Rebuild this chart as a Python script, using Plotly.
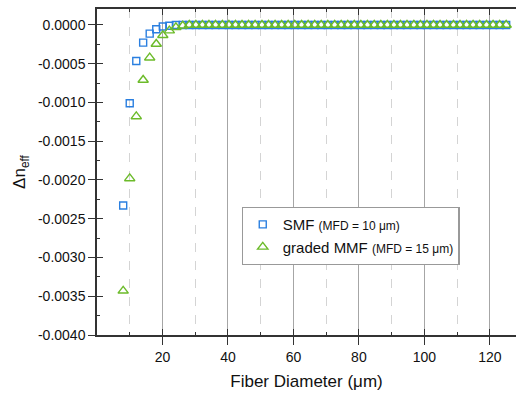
import plotly.graph_objects as go

fiber_diameter = [8.0, 10.0, 12.0, 14.1, 16.1, 18.1, 20.1, 22.1, 24.1, 26.2,
                  28.2, 30.2, 32.2, 34.2, 36.2, 38.3, 40.3, 42.3, 44.3, 46.3,
                  48.3, 50.4, 52.4, 54.4, 56.4, 58.4, 60.4, 62.5, 64.5, 66.5,
                  68.5, 70.5, 72.6, 74.6, 76.6, 78.6, 80.6, 82.6, 84.7, 86.7,
                  88.7, 90.7, 92.7, 94.7, 96.8, 98.8, 100.8, 102.8, 104.8, 106.8,
                  108.9, 110.9, 112.9, 114.9, 116.9, 119.0, 121.0, 123.0, 125.0]

smf_dn = [-0.00233, -0.00101, -0.000465, -0.000228, -0.000112, -0.000056, -0.00002, -0.00001, 0.0, 0.0,
          0.0, 0.0, 0.0, 0.0, 0.0, 0.0, 0.0, 0.0, 0.0, 0.0,
          0.0, 0.0, 0.0, 0.0, 0.0, 0.0, 0.0, 0.0, 0.0, 0.0,
          0.0, 0.0, 0.0, 0.0, 0.0, 0.0, 0.0, 0.0, 0.0, 0.0,
          0.0, 0.0, 0.0, 0.0, 0.0, 0.0, 0.0, 0.0, 0.0, 0.0,
          0.0, 0.0, 0.0, 0.0, 0.0, 0.0, 0.0, 0.0, 0.0]

mmf_dn = [-0.00343, -0.00198, -0.00118, -0.00071, -0.000422, -0.000245, -0.000133, -0.000073, -0.00003, -0.00001,
          0.0, 0.0, 0.0, 0.0, 0.0, 0.0, 0.0, 0.0, 0.0, 0.0,
          0.0, 0.0, 0.0, 0.0, 0.0, 0.0, 0.0, 0.0, 0.0, 0.0,
          0.0, 0.0, 0.0, 0.0, 0.0, 0.0, 0.0, 0.0, 0.0, 0.0,
          0.0, 0.0, 0.0, 0.0, 0.0, 0.0, 0.0, 0.0, 0.0, 0.0,
          0.0, 0.0, 0.0, 0.0, 0.0, 0.0, 0.0, 0.0, 0.0]

y_tickvals = [0.0, -0.0005, -0.0010, -0.0015, -0.0020, -0.0025, -0.0030, -0.0035, -0.0040]
y_ticktext = ["0.0000", "-0.0005", "-0.0010", "-0.0015", "-0.0020", "-0.0025", "-0.0030", "-0.0035", "-0.0040"]
x_tickvals = [20, 40, 60, 80, 100, 120]
x_ticktext = ["20", "40", "60", "80", "100", "120"]

BLUE = "#2a7fe0"
GREEN = "#6cbb2a"
AX = "#333333"
FONT = "Liberation Sans, Arial, sans-serif"

fig = go.Figure()
fig.add_trace(go.Scatter(
    x=fiber_diameter, y=smf_dn, mode="markers",
    name="SMF <span style='font-size:12px'>(MFD = 10 μm)</span>",
    marker=dict(symbol="square-open", size=7, color=BLUE, line=dict(width=1.4, color=BLUE)),
))
fig.add_trace(go.Scatter(
    x=fiber_diameter, y=mmf_dn, mode="markers",
    name="graded MMF <span style='font-size:12px'>(MFD = 15 μm)</span>",
    marker=dict(symbol="triangle-up-open", size=9, color=GREEN, line=dict(width=1.4, color=GREEN)),
))
# invisible trace to activate overlay axes
fig.add_trace(go.Scatter(x=[fiber_diameter[0]], y=[smf_dn[0]], xaxis="x2", yaxis="y2",
                         mode="markers", marker=dict(opacity=0), showlegend=False, hoverinfo="skip"))

xr = [0, 128]
yr = [-0.004, 0.000206]

fig.update_layout(
    width=516, height=396,
    margin=dict(l=97, r=0, t=9, b=61),
    paper_bgcolor="white", plot_bgcolor="white",
    font=dict(family=FONT, size=14, color="#111111"),
    showlegend=True,
    legend=dict(x=0.345, y=0.393, xanchor="left", yanchor="top",
                bgcolor="white", bordercolor="#999999", borderwidth=1.2,
                font=dict(size=15, family=FONT, color="#111111"),
                tracegroupgap=0),
    xaxis=dict(range=xr, tickvals=x_tickvals, ticktext=x_ticktext,
               ticks="outside", ticklen=8, tickwidth=1.3, tickcolor=AX,
               showline=True, linecolor=AX, linewidth=1.5,
               showgrid=True, gridcolor="#a6a6a6", gridwidth=1,
               minor=dict(dtick=10, tick0=0, showgrid=True, gridcolor="#d4d4d4",
                          griddash="dash", gridwidth=1, ticks=""),
               zeroline=False,
               title=dict(text="Fiber Diameter (μm)", font=dict(size=17, color="#111111"), standoff=12),
               tickfont=dict(size=14)),
    xaxis2=dict(range=xr, overlaying="x", anchor="y", side="bottom",
                tickvals=x_tickvals, ticks="inside", ticklen=6, tickwidth=1.3, tickcolor=AX,
                minor=dict(dtick=10, tick0=0, ticks="inside", ticklen=3, tickwidth=1.2, tickcolor=AX, showgrid=False),
                showticklabels=False, showgrid=False, zeroline=False,
                showline=True, linecolor=AX, linewidth=1.5, mirror="ticks"),
    yaxis=dict(range=yr, tickvals=y_tickvals, ticktext=y_ticktext,
               ticks="outside", ticklen=7, tickwidth=1.3, tickcolor=AX,
               showline=True, linecolor=AX, linewidth=1.5,
               showgrid=False, zeroline=False,
               title=dict(text="Δn<sub>eff</sub>", font=dict(size=17, color="#111111"), standoff=8),
               tickfont=dict(size=14)),
    yaxis2=dict(range=yr, overlaying="y", anchor="x", side="left",
                tickvals=y_tickvals, ticks="inside", ticklen=6, tickwidth=1.3, tickcolor=AX,
                minor=dict(dtick=0.00025, tick0=0, ticks="inside", ticklen=3, tickwidth=1.2, tickcolor=AX, showgrid=False),
                showticklabels=False, showgrid=False, zeroline=False,
                showline=False),
)

fig.write_html("out.html")
